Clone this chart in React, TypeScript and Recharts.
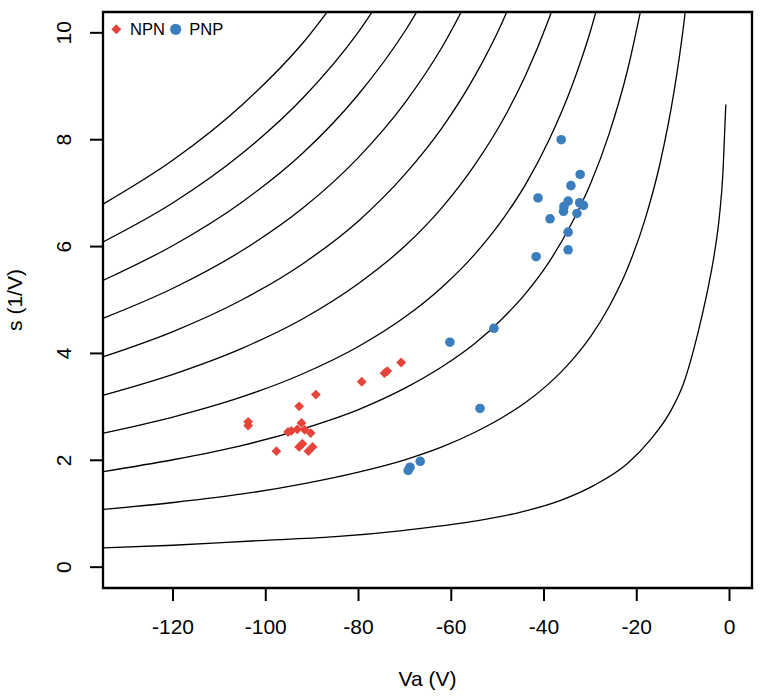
import { ComposedChart, Line, Scatter, XAxis, YAxis, ReferenceArea } from 'recharts';

const FONT = '"Liberation Sans", Arial, Helvetica, sans-serif';
const RED = '#E6443A';
const BLUE = '#3A7EBD';

// x ticks / y ticks
const X_TICKS = [-120, -100, -80, -60, -40, -20, 0];
const Y_TICKS = [0, 2, 4, 6, 8, 10];

// lowest curve, read point by point
const VA_LOW = [-135, -120, -103, -85, -70, -55, -45, -36.4, -29.2, -22, -17, -12.7, -9.85, -7.7, -6, -4.5, -3.2, -2.2, -1.4, -0.8];
const S_LOW = [0.36, 0.41, 0.49, 0.57, 0.69, 0.86, 1.03, 1.25, 1.53, 1.94, 2.39, 2.92, 3.45, 4.08, 4.68, 5.28, 5.9, 6.55, 7.4, 8.66];

// the other curves, read on a shared Va grid until they leave the top of the box
const VA_GRID = [-135, -120, -105, -92, -80, -70, -62, -55, -49, -44, -39, -34, -30, -26, -22, -18, -15, -12, -10, -8];
const S_C2 = [1.08, 1.21, 1.37, 1.56, 1.78, 2.01, 2.25, 2.52, 2.8, 3.08, 3.43, 3.87, 4.31, 4.87, 5.59, 6.57, 7.55, 8.88, 10.07, 11.62];
const S_C3 = [1.79, 2.01, 2.28, 2.59, 2.95, 3.35, 3.75, 4.18, 4.65, 5.12, 5.7, 6.44, 7.17, 8.1, 9.3, 10.91];
const S_C4 = [2.51, 2.81, 3.19, 3.62, 4.13, 4.68, 5.24, 5.85, 6.5, 7.16, 7.98, 9.0, 10.03, 11.32];
const S_C5 = [3.22, 3.61, 4.1, 4.65, 5.31, 6.01, 6.73, 7.52, 8.35, 9.2, 10.25, 11.56];
const S_C6 = [3.94, 4.41, 5.01, 5.68, 6.48, 7.35, 8.22, 9.18, 10.2, 11.25];
const S_C7 = [4.66, 5.22, 5.93, 6.72, 7.67, 8.69, 9.73, 10.87];
const S_C8 = [5.37, 6.02, 6.84, 7.75, 8.85, 10.03, 11.22];
const S_C9 = [6.09, 6.82, 7.75, 8.78, 10.02, 11.36];
const S_C10 = [6.8, 7.62, 8.66, 9.81, 11.2];

const NPN_VA = [-70.8, -73.8, -74.4, -79.3, -89.2, -92.8, -103.8, -103.8, -92.3, -93.2, -94.5, -95.2, -91.6, -90.3, -92.1, -92.8, -89.9, -90.8, -97.7];
const NPN_S = [3.83, 3.67, 3.63, 3.47, 3.23, 3.01, 2.72, 2.65, 2.7, 2.58, 2.55, 2.53, 2.57, 2.51, 2.31, 2.25, 2.25, 2.17, 2.17];

const PNP_VA = [-60.3, -50.8, -53.8, -66.7, -68.9, -69.3, -36.3, -32.2, -34.2, -41.3, -34.8, -35.7, -35.8, -32.3, -31.5, -32.9, -38.7, -34.8, -34.8, -41.7];
const PNP_S = [4.21, 4.47, 2.97, 1.98, 1.87, 1.81, 8.0, 7.35, 7.14, 6.91, 6.85, 6.75, 6.66, 6.82, 6.77, 6.62, 6.52, 6.27, 5.94, 5.81];

const zip = (xs: number[], ys: number[]) => ys.map((s, i) => ({ va: xs[i], s }));

const curves = [
  zip(VA_LOW, S_LOW),
  ...[S_C2, S_C3, S_C4, S_C5, S_C6, S_C7, S_C8, S_C9, S_C10].map((ys) => zip(VA_GRID, ys)),
];
const npn = zip(NPN_VA, NPN_S);
const pnp = zip(PNP_VA, PNP_S);

function XTick({ x, y, payload }: any) {
  return (
    <text x={x} y={y + 31} textAnchor="middle" fontSize={21} fontFamily={FONT} fill="#000">
      {payload.value}
    </text>
  );
}

function YTick({ x, y, payload }: any) {
  const bx = x - 16.5;
  return (
    <text x={bx} y={y} transform={`rotate(-90, ${bx}, ${y})`} textAnchor="middle" fontSize={21} fontFamily={FONT} fill="#000">
      {payload.value}
    </text>
  );
}

function Diamond({ cx, cy }: any) {
  const r = 4.9;
  return <path d={`M${cx},${cy - r}L${cx + r},${cy}L${cx},${cy + r}L${cx - r},${cy}Z`} fill={RED} />;
}

function Dot({ cx, cy }: any) {
  return <circle cx={cx} cy={cy} r={4.8} fill={BLUE} />;
}

export default function App() {
  return (
    <div style={{ position: 'absolute', left: 0, top: 0, width: 765, height: 698, background: '#fff' }}>
      <ComposedChart width={765} height={698} margin={{ top: 12, right: 13, bottom: 0, left: 0 }}>
        <XAxis
          type="number"
          dataKey="va"
          domain={[-135.1, 4.85]}
          ticks={X_TICKS}
          allowDataOverflow
          height={110}
          axisLine={false}
          tickSize={13}
          tickLine={{ stroke: '#000', strokeWidth: 2 }}
          tick={<XTick />}
        />
        <YAxis
          type="number"
          dataKey="s"
          domain={[-0.39, 10.39]}
          ticks={Y_TICKS}
          allowDataOverflow
          width={103}
          axisLine={false}
          tickSize={13}
          tickLine={{ stroke: '#000', strokeWidth: 2 }}
          tick={<YTick />}
        />
        {curves.map((d, i) => (
          <Line
            key={i}
            data={d}
            dataKey="s"
            type="monotone"
            stroke="#000"
            strokeWidth={1.3}
            dot={false}
            activeDot={false}
            isAnimationActive={false}
          />
        ))}
        <Scatter data={npn} dataKey="s" shape={<Diamond />} isAnimationActive={false} />
        <Scatter data={pnp} dataKey="s" shape={<Dot />} isAnimationActive={false} />
        <ReferenceArea
          x1={-135.1}
          x2={4.85}
          y1={-0.39}
          y2={10.39}
          ifOverflow="visible"
          fill="none"
          stroke="#000"
          strokeWidth={2.3}
        />
      </ComposedChart>
      <svg width={765} height={698} style={{ position: 'absolute', left: 0, top: 0, pointerEvents: 'none' }}>
        <text x={22} y={300} transform="rotate(-90, 22, 300)" textAnchor="middle" fontSize={21} fontFamily={FONT} fill="#000">
          s (1/V)
        </text>
        <text x={427.5} y={686} textAnchor="middle" fontSize={21} fontFamily={FONT} fill="#000">
          Va (V)
        </text>
        <path d="M116.3,24.3L121.3,29.3L116.3,34.3L111.3,29.3Z" fill={RED} />
        <text x={130} y={35} fontSize={16.5} fontFamily={FONT} fill="#000">NPN</text>
        <circle cx={175.7} cy={29.3} r={5.6} fill={BLUE} />
        <text x={189.3} y={35} fontSize={16.5} fontFamily={FONT} fill="#000">PNP</text>
      </svg>
    </div>
  );
}
